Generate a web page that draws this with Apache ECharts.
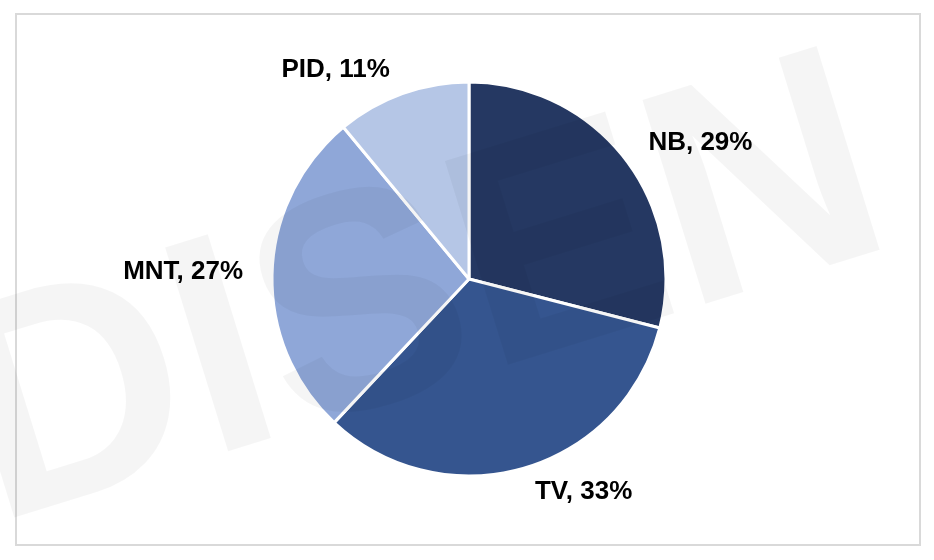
<!DOCTYPE html>
<html>
<head>
<meta charset="utf-8">
<script src="https://cdn.jsdelivr.net/npm/echarts@6/dist/echarts.min.js"></script>
<style>
html,body{margin:0;padding:0;background:#fff;}
#chart{width:934px;height:560px;}
</style>
</head>
<body>
<div id="chart"></div>
<script>
const categories = ['NB', 'TV', 'MNT', 'PID'];
const values = [29, 33, 27, 11];
const colors = ['#253862', '#35558f', '#8fa7d8', '#b5c6e6'];

const chart = echarts.init(document.getElementById('chart'));
chart.setOption({
  animation: false,
  backgroundColor: '#ffffff',
  graphic: [
    {
      type: 'rect',
      shape: { x: 16, y: 14, width: 904, height: 531 },
      style: { fill: 'none', stroke: '#d9d9d9', lineWidth: 2 },
      z: 0
    },
    {
      type: 'text',
      x: 15, y: 590,
      rotation: 0.3,
      style: {
        text: 'DISEN',
        font: 'bold 310px "Liberation Sans", Arial, sans-serif',
        fill: 'rgba(0,0,0,0.04)',
        textVerticalAlign: 'bottom'
      },
      z: 100,
      silent: true
    }
  ],
  series: [{
    type: 'pie',
    center: [469, 279],
    radius: [0, 197],
    startAngle: 90,
    clockwise: true,
    itemStyle: { borderColor: '#ffffff', borderWidth: 3 },
    label: {
      show: true,
      position: 'outside',
      formatter: '{b}, {c}%',
      fontFamily: '"Liberation Sans", Arial, sans-serif',
      fontWeight: 'bold',
      fontSize: 26,
      color: '#000000',
      distanceToLabelLine: 4
    },
    labelLine: { show: false, length: 25, length2: 0 },
    emphasis: { disabled: true },
    data: categories.map((c, i) => ({ name: c, value: values[i], itemStyle: { color: colors[i] } }))
  }]
});
</script>
</body>
</html>
